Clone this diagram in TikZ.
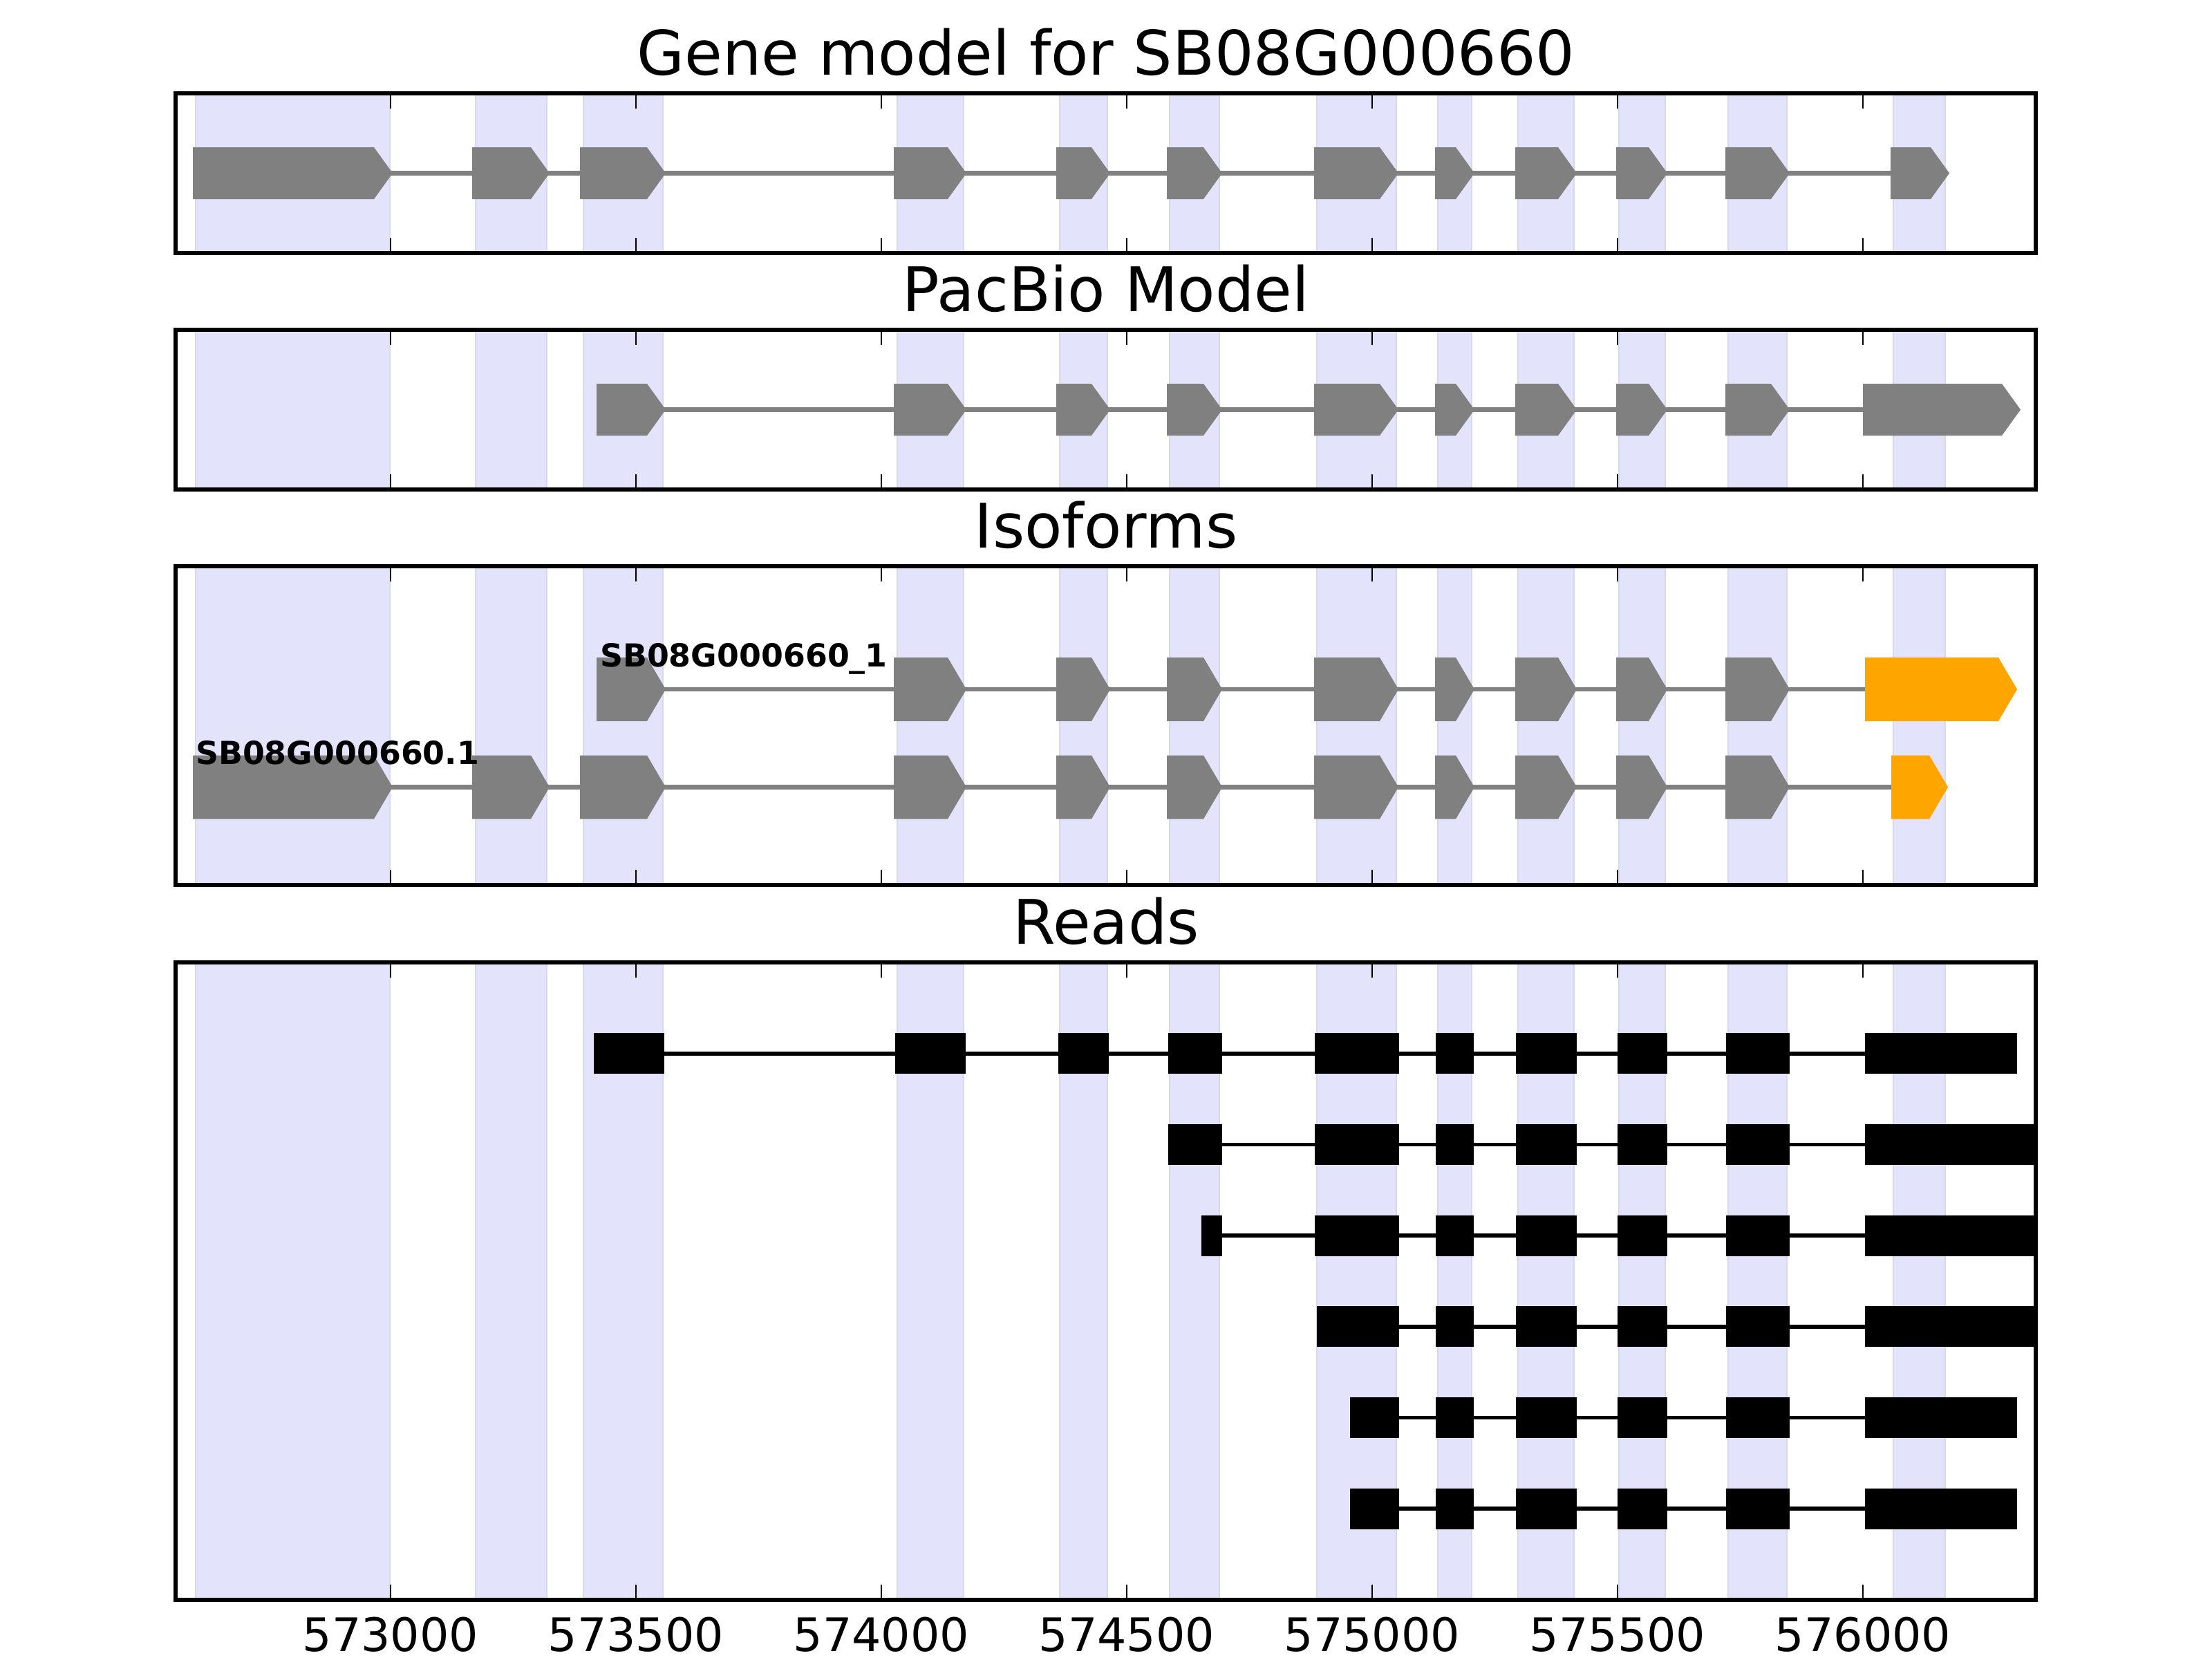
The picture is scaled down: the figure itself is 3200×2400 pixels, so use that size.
\documentclass[tikz,border=0pt]{standalone}
\usepackage{fontspec}
\setmainfont{DejaVu Sans}
\definecolor{genegray}{HTML}{808080}
\definecolor{geneorange}{HTML}{FFA500}
\definecolor{hlfill}{HTML}{E3E3FC}
\definecolor{hledge}{HTML}{D8D8EC}
\newcommand\exarrow[5]{%
  \fill[#5] (#1,#3-#4) -- (#2-27,#3-#4) -- (#2,#3) -- (#2-27,#3+#4) -- (#1,#3+#4) -- cycle;}
\newcommand\readbox[3]{\fill[black] (#1,#3-29.5) rectangle (#2,#3+29.5);}
\newcommand\commonexons{1293/1398,1528/1606,1688/1768,1901/2023,2076/2133,2192/2281,2338/2412,2496/2589}
\newcommand\commonreads{2077/2132,2193/2281,2340/2412,2497/2589}
\begin{document}
\begin{tikzpicture}[x=0.18pt,y=-0.18pt,
  hl/.style={fill=hlfill, draw=hledge, line width=0.5pt},
  frame/.style={draw=black, line width=1pt},
  tickmark/.style={draw=black, line width=0.5pt},
  intron/.style={draw=genegray, line width=1.1pt},
  readline/.style={draw=black, line width=1pt},
  ttl/.style={font=\fontsize{16}{19}\selectfont, anchor=base, inner sep=0pt},
  ticklbl/.style={font=\fontsize{12}{14}\selectfont, anchor=base, inner sep=0pt},
  isolbl/.style={font=\fontsize{8.25}{10}\selectfont\bfseries, anchor=base west, inner sep=0pt}]
\useasboundingbox (0,0) rectangle (3200,2400);
\fill[white] (0,0) rectangle (3200,2400);

% highlighted exon spans in every panel
\foreach \t/\bt in {135/366,477/708,819/1280,1392/2314}{
  \foreach \a/\b in {283/564,688/791,844/959,1298/1394,1533/1602,1692/1764,1905/2020,2080/2129,2196/2277,2342/2409,2500/2585,2739/2814}{
    \path[hl] (\a,\t) rectangle (\b,\bt);}
}

% ---- panel 1: gene model
\draw[intron] (279,250.5) -- (2735,250.5);
\foreach \s/\e in {279/568,683/795,839/963,1293/1398,1528/1606,1688/1768,1901/2023,2076/2133,2192/2281,2338/2412,2496/2589,2735/2820}{
  \exarrow{\s}{\e}{250.5}{37.5}{genegray}}

% ---- panel 2: PacBio model
\draw[intron] (863,592.5) -- (2695,592.5);
\exarrow{863}{963}{592.5}{37.5}{genegray}
\foreach \s/\e in \commonexons {\exarrow{\s}{\e}{592.5}{37.5}{genegray}}
\exarrow{2695}{2923}{592.5}{37.5}{genegray}

% ---- panel 3: isoforms
\draw[intron] (863,997) -- (2700,997);
\exarrow{863}{963}{997}{46}{genegray}
\foreach \s/\e in \commonexons {\exarrow{\s}{\e}{997}{46}{genegray}}
\exarrow{2698}{2918}{997}{46}{geneorange}
\node[isolbl] (lblA) at (867,964) {SB08G000660\_1};

\draw[intron] (279,1138.5) -- (2738,1138.5);
\foreach \s/\e in {279/568,683/795,839/963}{
  \exarrow{\s}{\e}{1138.5}{46}{genegray}}
\foreach \s/\e in \commonexons {\exarrow{\s}{\e}{1138.5}{46}{genegray}}
\exarrow{2736}{2818}{1138.5}{46}{geneorange}
\node[isolbl] (lblB) at (282,1105) {SB08G000660.1};

% ---- panel 4: reads
% row 1
\draw[readline] (859,1523.7) -- (2698,1523.7);
\foreach \s/\e in {859/961,1295/1397,1531/1604,1690/1768,1902/2024}{
  \readbox{\s}{\e}{1523.7}}
\foreach \s/\e in \commonreads {\readbox{\s}{\e}{1523.7}}
\readbox{2698}{2918}{1523.7}
% row 2
\draw[readline] (1690,1655.4) -- (2698,1655.4);
\foreach \s/\e in {1690/1768,1902/2024} {\readbox{\s}{\e}{1655.4}}
\foreach \s/\e in \commonreads {\readbox{\s}{\e}{1655.4}}
\readbox{2698}{2945}{1655.4}
% row 3
\draw[readline] (1738,1787.1) -- (2698,1787.1);
\foreach \s/\e in {1738/1768,1902/2024} {\readbox{\s}{\e}{1787.1}}
\foreach \s/\e in \commonreads {\readbox{\s}{\e}{1787.1}}
\readbox{2698}{2945}{1787.1}
% row 4
\draw[readline] (1905,1918.8) -- (2698,1918.8);
\readbox{1905}{2024}{1918.8}
\foreach \s/\e in \commonreads {\readbox{\s}{\e}{1918.8}}
\readbox{2698}{2945}{1918.8}
% rows 5 and 6
\foreach \y in {2050.5,2182.2}{
  \draw[readline] (1953,\y) -- (2698,\y);
  \readbox{1953}{2024}{\y}
  \foreach \s/\e in \commonreads {\readbox{\s}{\e}{\y}}
  \readbox{2698}{2918}{\y}
}

% ticks and frames
\foreach \t/\bt in {135/366,477/708,819/1280,1392/2314}{
  \foreach \x in {565,920,1275,1630,1985,2340,2695}{
    \draw[tickmark] (\x,\t) -- (\x,\t+22);
    \draw[tickmark] (\x,\bt) -- (\x,\bt-22);
  }
  \draw[frame] (254,\t) rectangle (2945,\bt);
}

% titles
\node[ttl] (t1) at (1600,108) {Gene model for SB08G000660};
\node[ttl] (t2) at (1600,450) {PacBio Model};
\node[ttl] (t3) at (1600,792) {Isoforms};
\node[ttl] (t4) at (1600,1365) {Reads};

% tick labels
\foreach \x/\l in {565/573000,920/573500,1275/574000,1630/574500,1985/575000,2340/575500,2695/576000}{
  \node[ticklbl] (tl\l) at (\x,2388) {\l};}
\end{tikzpicture}
\end{document}
